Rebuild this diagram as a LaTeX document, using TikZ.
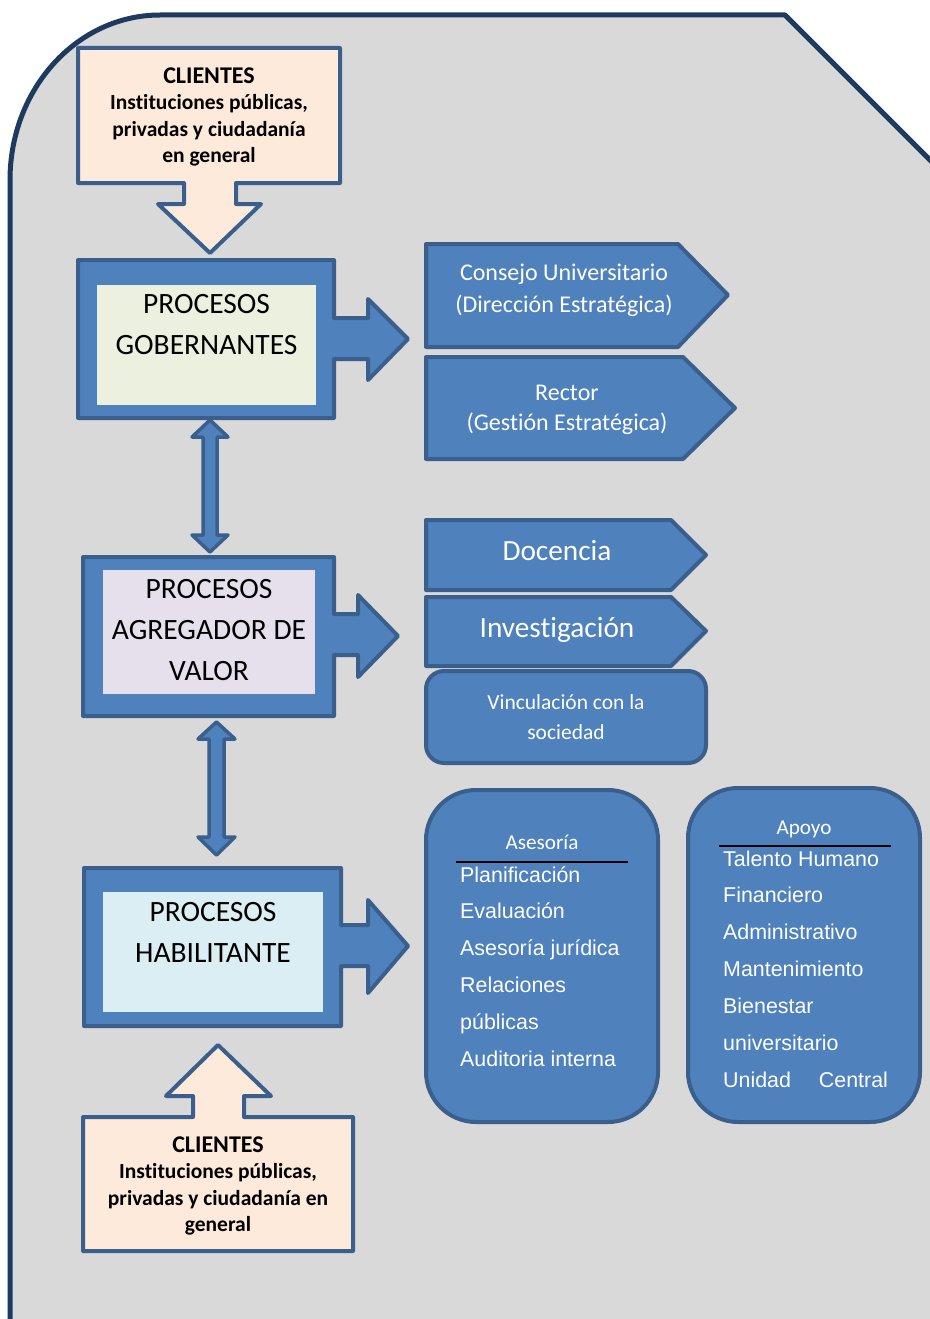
\documentclass[tikz,border=0pt]{standalone}
\usepackage{fontspec}
\setmainfont{Carlito}[Ligatures=NoCommon]
\newfontfamily\arialfont{Liberation Sans}
\definecolor{pagegrey}{HTML}{D9D9D9}
\definecolor{frameblue}{HTML}{1F3A5F}
\definecolor{boxblue}{HTML}{4F81BD}
\definecolor{edgeblue}{HTML}{3A5F8D}
\definecolor{peachfill}{HTML}{FDEADA}
\definecolor{govfill}{HTML}{EBF1DE}
\definecolor{valfill}{HTML}{E5E0EC}
\definecolor{habfill}{HTML}{DBEEF4}
\newcommand{\bighead}[1]{{\fontsize{24}{26.5}\selectfont #1}}
\begin{document}
\begin{tikzpicture}[x=1pt,y=-1pt,line join=round,
  blk/.style={fill=boxblue,draw=edgeblue,line width=4pt},
  client/.style={fill=peachfill,draw=edgeblue,line width=4pt},
  whitetxt/.style={text=white,inner sep=0pt,align=center,anchor=base},
  blacktxt/.style={text=black,inner sep=0pt,align=center,anchor=base},
  clienttxt/.style={blacktxt,font=\bfseries\fontsize{21.5}{26.5}\selectfont},
  proctxt/.style={blacktxt,font=\fontsize{29.5}{41}\selectfont},
  listtxt/.style={text=white,inner sep=0pt,anchor=base west,font=\arialfont\fontsize{21.4}{25}\selectfont},
  headtxt/.style={whitetxt,font=\fontsize{21.2}{25}\selectfont}]
\useasboundingbox (0,0) rectangle (929,1319);

% page frame with rounded upper-left corner and clipped upper-right corner
\draw[fill=pagegrey,draw=frameblue,line width=5pt]
  (10,1340) -- (10,180) arc[start angle=180,end angle=270,x radius=150,y radius=165]
  -- (785,15) -- (965,195) -- (965,1340) -- cycle;

% ---- clients (top), down arrow callout
\draw[client] (78,48) -- (340,48) -- (340,183) -- (236,183) -- (236,204) -- (261,204)
  -- (210,253) -- (158,204) -- (184,204) -- (184,183) -- (78,183) -- cycle;
\node[clienttxt] (clientsTop) at (209,162.7)
  {\bighead{CLIENTES}\\Instituciones públicas,\\privadas y ciudadanía\\en general};

% ---- governing processes
\draw[blk] (78,260) -- (334,260) -- (334,318) -- (368,318) -- (368,299) -- (408,339)
  -- (368,380) -- (368,359) -- (334,359) -- (334,418) -- (78,418) -- cycle;
\fill[govfill] (97,285) rectangle (316,405);
\node[proctxt] (gov) at (206.5,354) {PROCESOS\\GOBERNANTES};

% ---- value-adding processes
\draw[blk] (83,557) -- (334,557) -- (334,614) -- (358,614) -- (358,595) -- (398,636)
  -- (358,677) -- (358,655) -- (334,655) -- (334,716) -- (83,716) -- cycle;
\fill[valfill] (103,570) rectangle (315,694);
\node[proctxt] (val) at (209,680.5) {PROCESOS\\AGREGADOR DE\\VALOR};

% ---- enabling processes
\draw[blk] (84,868) -- (341,868) -- (341,925) -- (368,925) -- (368,900) -- (408,946)
  -- (368,993) -- (368,966) -- (341,966) -- (341,1026) -- (84,1026) -- cycle;
\fill[habfill] (103,892) rectangle (323,1012);
\node[proctxt] (hab) at (213,962.5) {PROCESOS\\HABILITANTE};

% ---- two-way links between the process levels
\draw[blk,line width=3.5pt] (210,420) -- (228,437) -- (217,437) -- (217,535) -- (228,535)
  -- (210,552) -- (192,535) -- (203,535) -- (203,437) -- (192,437) -- cycle;
\draw[blk,line width=3.5pt] (216.5,722) -- (235,739) -- (224,739) -- (224,837) -- (235,837)
  -- (216.5,855) -- (198,837) -- (209,837) -- (209,739) -- (198,739) -- cycle;

% ---- governing units
\draw[blk] (426,244) -- (678,244) -- (728,295) -- (678,347) -- (426,347) -- cycle;
\node[whitetxt,font=\fontsize{24}{32}\selectfont] (consejo) at (564,312.7)
  {Consejo Universitario\\(Dirección Estratégica)};
\draw[blk] (426,357) -- (683,357) -- (735,408) -- (683,459) -- (426,459) -- cycle;
\node[whitetxt,font=\fontsize{24}{30}\selectfont] (rector) at (567,430.7)
  {Rector\\(Gestión Estratégica)};

% ---- value-adding units
\draw[blk] (426,520) -- (671,520) -- (706,555) -- (671,590) -- (426,590) -- cycle;
\node[whitetxt,font=\fontsize{29.3}{30}\selectfont] (docencia) at (557,560.7) {Docencia};
\draw[blk] (426,597) -- (671,597) -- (706,631) -- (671,666) -- (426,666) -- cycle;
\node[whitetxt,font=\fontsize{29.3}{30}\selectfont] (invest) at (557,637.3) {Investigación};
\draw[blk,rounded corners=18pt] (426,671) rectangle (706,763);
\node[whitetxt,font=\fontsize{21.5}{29.5}\selectfont] (vinc) at (566,739)
  {Vinculación con la\\sociedad};

% ---- advisory units
\draw[blk,rounded corners=50pt] (426,790) rectangle (658,1122);
\node[headtxt] (asesoria) at (542,849) {Asesoría};
\draw[black,line width=2pt] (456,862) -- (628,862);
\foreach \t [count=\i] in {Planificación,Evaluación,Asesoría jurídica,Relaciones,públicas,Auditoria interna}
  \node[listtxt] (ase\i) at (460,{882+36.8*(\i-1)}) {\t};

% ---- support units
\draw[blk,rounded corners=50pt] (688,788) rectangle (920,1122);
\node[headtxt] (apoyo) at (804,834) {Apoyo};
\draw[black,line width=2pt] (719,846) -- (891,846);
\foreach \t [count=\i] in {Talento Humano,Financiero,Administrativo,Mantenimiento,Bienestar,universitario}
  \node[listtxt] (apo\i) at (723,{866+36.8*(\i-1)}) {\t};
\node[listtxt] (apo7) at (723,1087) {Unidad\hspace{28pt}Central};

% ---- clients (bottom), up arrow callout
\draw[client] (83,1117) -- (193,1117) -- (193,1096) -- (166,1096) -- (218,1045) -- (271,1096)
  -- (244,1096) -- (244,1117) -- (353,1117) -- (353,1251) -- (83,1251) -- cycle;
\node[clienttxt] (clientsBottom) at (218,1231.7)
  {\bighead{CLIENTES}\\Instituciones públicas,\\privadas y ciudadanía en\\general};
\end{tikzpicture}
\end{document}
